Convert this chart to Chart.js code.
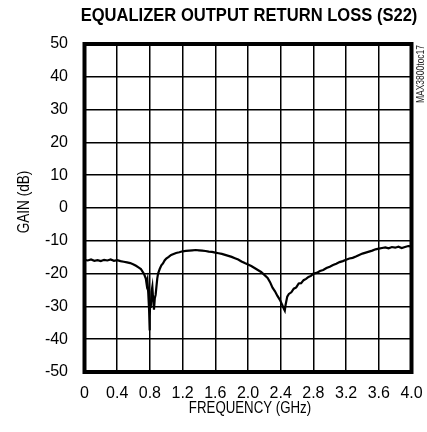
<!DOCTYPE html>
<html>
<head>
<meta charset="utf-8">
<script src="https://cdn.jsdelivr.net/npm/chart.js@4.4.0/dist/chart.umd.min.js"></script>
<style>
  html, body { margin: 0; padding: 0; background: #fff; }
</style>
</head>
<body>
<canvas id="myChart" width="427" height="432"></canvas>
<script>
// S22 trace (GHz / dB)
var freqGHz = [
  0.00, 0.04, 0.08, 0.12, 0.16, 0.20, 0.24, 0.28, 0.32, 0.36,
  0.40, 0.44, 0.48, 0.52, 0.56, 0.60, 0.63, 0.66, 0.69, 0.71,
  0.73, 0.75, 0.76, 0.77, 0.78, 0.79, 0.795, 0.80, 0.805, 0.81,
  0.82, 0.83, 0.84, 0.85, 0.86, 0.87, 0.88, 0.89, 0.90, 0.92,
  0.94, 0.96, 0.98, 1.00, 1.03, 1.06, 1.09, 1.12, 1.16, 1.20,
  1.24, 1.28, 1.32, 1.36, 1.40, 1.44, 1.48, 1.52, 1.56, 1.60,
  1.64, 1.68, 1.72, 1.76, 1.80, 1.84, 1.88, 1.92, 1.96, 2.00,
  2.04, 2.08, 2.12, 2.16, 2.20, 2.24, 2.27, 2.30, 2.33, 2.36,
  2.39, 2.42, 2.44, 2.45, 2.46, 2.48, 2.50, 2.53, 2.56, 2.59,
  2.62, 2.65, 2.68, 2.71, 2.74, 2.77, 2.80, 2.84, 2.88, 2.92,
  2.96, 3.00, 3.04, 3.08, 3.12, 3.16, 3.20, 3.24, 3.28, 3.32,
  3.36, 3.40, 3.44, 3.48, 3.52, 3.56, 3.60, 3.64, 3.68, 3.72,
  3.76, 3.80, 3.84, 3.88, 3.92, 3.96, 4.00
];
var s22dB = [
  -15.8, -16.0, -15.7, -16.1, -15.9, -16.2, -15.8, -16.0, -15.7, -16.1,
  -15.9, -16.2, -16.4, -16.6, -16.8, -17.2, -17.6, -18.1, -18.6, -19.4,
  -20.2, -21.5, -23.2, -22.0, -26.0, -31.0, -37.3, -33.0, -28.5, -30.5,
  -25.5, -24.0, -28.0, -31.0, -27.5, -26.5, -24.0, -21.5, -20.0, -18.6,
  -17.5, -16.9, -16.0, -15.4, -14.9, -14.3, -14.0, -13.7, -13.5, -13.2,
  -13.1, -13.0, -12.9, -12.8, -12.9, -13.0, -13.1, -13.3, -13.4, -13.6,
  -13.8, -14.0, -14.3, -14.6, -14.9, -15.3, -15.7, -16.3, -16.8, -17.2,
  -17.7, -18.3, -18.9, -19.5, -20.4, -21.3, -22.6, -24.3, -25.4, -26.8,
  -28.0, -29.6, -30.8, -31.3, -29.5, -27.0, -26.2, -25.7, -24.6, -24.2,
  -23.0, -22.9, -22.0, -21.6, -21.0, -20.7, -20.0, -19.8, -19.2, -18.9,
  -18.3, -17.9, -17.4, -17.0, -16.5, -16.2, -15.8, -15.4, -15.2, -14.8,
  -14.3, -13.9, -13.6, -13.3, -13.0, -12.6, -12.4, -12.2, -12.0, -12.3,
  -11.9, -12.1, -11.8, -12.2, -11.9, -11.6, -11.7
];

var xTickValues = [0, 0.4, 0.8, 1.2, 1.6, 2.0, 2.4, 2.8, 3.2, 3.6, 4.0];
var xTickLabels = ["0", "0.4", "0.8", "1.2", "1.6", "2.0", "2.4", "2.8", "3.2", "3.6", "4.0"];
var yTickValues = [-50, -40, -30, -20, -10, 0, 10, 20, 30, 40, 50];

var chartTitle = "EQUALIZER OUTPUT RETURN LOSS (S22)";
var xTitle = "FREQUENCY (GHz)";
var yTitle = "GAIN (dB)";
var sideNote = "MAX3800toc17";

var fontFam = "'Liberation Sans', Arial, sans-serif";

var points = freqGHz.map(function (f, i) { return { x: f, y: s22dB[i] }; });

// squeezed text, since no condensed face is installed
function narrowText(ctx, txt, x, y, sx, rot) {
  ctx.save();
  ctx.translate(x, y);
  if (rot) ctx.rotate(rot);
  ctx.scale(sx, 1);
  ctx.fillText(txt, 0, 0);
  ctx.restore();
}

// title, axis titles, heavy frame and the little part-number note
var decor = {
  id: 'decor',
  afterDraw: function (chart) {
    var ctx = chart.ctx;
    var a = chart.chartArea;
    ctx.save();
    ctx.strokeStyle = '#000';
    ctx.lineWidth = 4;
    ctx.strokeRect(a.left, a.top, a.right - a.left, a.bottom - a.top);

    ctx.fillStyle = '#000';
    ctx.textAlign = 'center';
    ctx.textBaseline = 'middle';

    ctx.font = 'bold 18px ' + fontFam;
    narrowText(ctx, chartTitle, 249, 16, 0.92);

    ctx.font = '17px ' + fontFam;
    narrowText(ctx, xTitle, 250, 408, 0.78);
    narrowText(ctx, yTitle, 24, 202, 0.8, -Math.PI / 2);

    ctx.font = '10px ' + fontFam;
    ctx.fillStyle = '#222';
    narrowText(ctx, sideNote, 421.5, 74, 0.85, -Math.PI / 2);
    ctx.restore();
  }
};

new Chart("myChart", {
  type: "line",
  data: {
    datasets: [{
      data: points,
      borderColor: "#000",
      borderWidth: 2.2,
      pointRadius: 0,
      tension: 0,
      fill: false
    }]
  },
  options: {
    responsive: false,
    animation: false,
    layout: { padding: { top: 44, right: 15.5, left: 0, bottom: 0 } },
    plugins: {
      legend: { display: false },
      title: { display: false },
      tooltip: { enabled: false }
    },
    scales: {
      x: {
        type: "linear",
        min: 0,
        max: 4,
        afterFit: function (s) { s.height = 60; s.paddingLeft = 0; s.paddingRight = 0; },
        afterBuildTicks: function (s) { s.ticks = xTickValues.map(function (v) { return { value: v }; }); },
        grid: { color: "#000", lineWidth: 1.5, drawTicks: false },
        border: { display: false },
        ticks: {
          color: "#000",
          padding: 12,
          autoSkip: false,
          maxRotation: 0,
          font: { family: fontFam, size: 16 },
          callback: function (v, i) { return xTickLabels[i]; }
        }
      },
      y: {
        min: -50,
        max: 50,
        afterFit: function (s) { s.width = 84.5; s.paddingTop = 0; s.paddingBottom = 0; },
        afterBuildTicks: function (s) { s.ticks = yTickValues.map(function (v) { return { value: v }; }); },
        grid: { color: "#000", lineWidth: 1.5, drawTicks: false },
        border: { display: false },
        ticks: {
          color: "#000",
          padding: 16.5,
          font: { family: fontFam, size: 16 },
          callback: function (v) { return String(v); }
        }
      }
    }
  },
  plugins: [decor]
});
</script>
</body>
</html>
